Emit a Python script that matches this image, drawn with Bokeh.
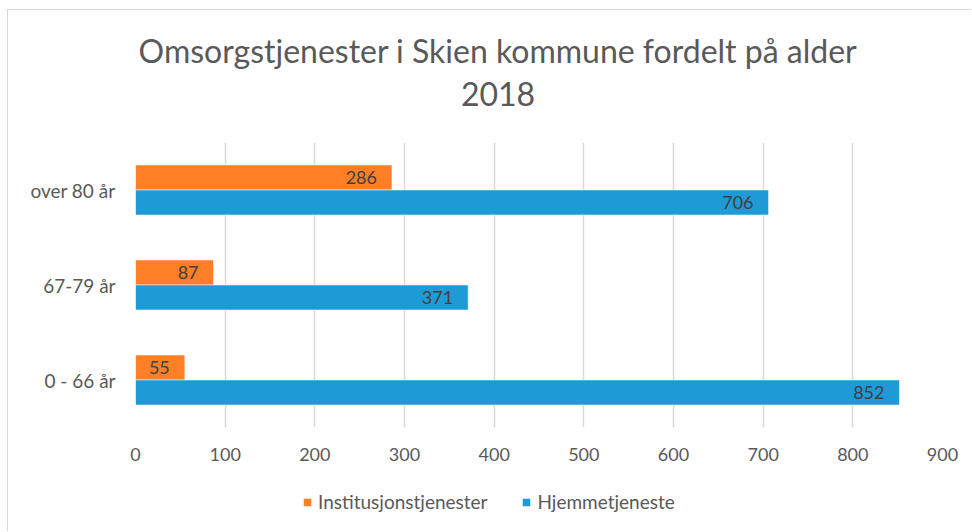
from bokeh.plotting import figure
from bokeh.layouts import column
from bokeh.models import (ColumnDataSource, FactorRange, Range1d, Legend, LegendItem, FixedTicker,
                          LabelSet, Label)
from bokeh.core.properties import value
from bokeh.transform import dodge
from bokeh.embed import file_html
from bokeh.resources import INLINE

categories = ["0 - 66 år", "67-79 år", "over 80 år"]
institusjon = [55, 87, 286]
hjemme = [852, 371, 706]
series_names = ["Institusjonstjenester", "Hjemmetjeneste"]
x_ticks = [0, 100, 200, 300, 400, 500, 600, 700, 800, 900]
title_line1 = "Omsorgstjenester i Skien kommune fordelt på alder"
title_line2 = "2018"

FONT = "Lato"
GREY = "#595959"
ORANGE = "#FF7F27"
BLUE = "#1E9BD7"
W = 963

src = ColumnDataSource(data=dict(
    cat=categories,
    inst=institusjon,
    hjem=hjemme,
    inst_lbl=[str(v) for v in institusjon],
    hjem_lbl=[str(v) for v in hjemme],
))

# ---- header with the two title lines ----
hdr = figure(width=W, height=132, x_range=Range1d(0, 1), y_range=Range1d(0, 1),
             x_axis_type=None, y_axis_type=None, output_backend="svg", toolbar_location=None,
             min_border=0)
hdr.outline_line_color = None
for txt, yy in ((title_line1, 92), (title_line2, 49)):
    hdr.add_layout(Label(x=362.5, y=yy, x_units="screen", y_units="screen", text=txt,
                         text_align="center", text_baseline="middle", text_font=FONT,
                         text_font_size="32px", text_color=GREY))

# ---- main bar chart ----
p = figure(width=W, height=337, y_range=FactorRange(*categories), x_range=Range1d(0, 900),
           output_backend="svg", toolbar_location=None,
           min_border_left=127, min_border_right=29, min_border_bottom=52, min_border_top=0)

h = 0.263
r1 = p.hbar(y=dodge("cat", 0.1315, range=p.y_range), right="inst", left=0, height=h, source=src,
            fill_color=ORANGE, line_color="white", line_width=0.5)
r2 = p.hbar(y=dodge("cat", -0.1315, range=p.y_range), right="hjem", left=0, height=h, source=src,
            fill_color=BLUE, line_color="white", line_width=0.5)

for col, lbl, off in (("inst", "inst_lbl", 0.1315), ("hjem", "hjem_lbl", -0.1315)):
    ls = LabelSet(x=col, y=dodge("cat", off, range=p.y_range), text=lbl, source=src,
                  text_align="right", text_baseline="middle", x_offset=-15,
                  text_font=value(FONT), text_font_size=value("18px"), text_color="#404040")
    p.add_layout(ls)

p.xaxis.ticker = FixedTicker(ticks=x_ticks)
p.xaxis.axis_line_color = None
p.xaxis.major_tick_line_color = None
p.xaxis.minor_tick_line_color = None
p.xaxis.major_label_standoff = 14
p.xaxis.major_label_text_font = FONT
p.xaxis.major_label_text_font_size = "18px"
p.xaxis.major_label_text_color = GREY

p.yaxis.axis_line_color = None
p.yaxis.major_tick_line_color = None
p.yaxis.minor_tick_line_color = None
p.yaxis.major_label_standoff = 14
p.yaxis.major_label_text_font = FONT
p.yaxis.major_label_text_font_size = "19px"
p.yaxis.major_label_text_color = GREY

p.ygrid.grid_line_color = None
p.xgrid.grid_line_color = "#d9d9d9"
p.xgrid.grid_line_width = 1.5
p.outline_line_color = None

# ---- legend strip ----
leg = figure(width=W, height=52, y_range=FactorRange(*categories), x_range=Range1d(0, 900),
             x_axis_type=None, y_axis_type=None, output_backend="svg", toolbar_location=None,
             min_border=0)
leg.outline_line_color = None
leg.grid.visible = False
l1 = leg.hbar(y="cat", right="inst", left=0, height=0.3, source=src,
              fill_color=ORANGE, line_color="white", line_width=0.5, visible=False)
l2 = leg.hbar(y="cat", right="hjem", left=0, height=0.3, source=src,
              fill_color=BLUE, line_color="white", line_width=0.5, visible=False)
legend = Legend(items=[LegendItem(label=series_names[0], renderers=[l1]),
                       LegendItem(label=series_names[1], renderers=[l2])],
                orientation="horizontal", location=(167, 18),
                label_text_font=FONT, label_text_font_size="19px", label_text_color=GREY,
                glyph_width=10, glyph_height=10, label_standoff=6, spacing=34,
                inactive_fill_alpha=0,
                border_line_color=None, background_fill_alpha=0, margin=0, padding=0)
leg.add_layout(legend, "center")

layout = column(hdr, p, leg, spacing=0, margin=(9, 0, 0, 7))
layout.styles = {"border-left": "1px solid #d9d9d9", "border-top": "1px solid #d9d9d9"}

open("out.html", "w").write(file_html(layout, INLINE))
